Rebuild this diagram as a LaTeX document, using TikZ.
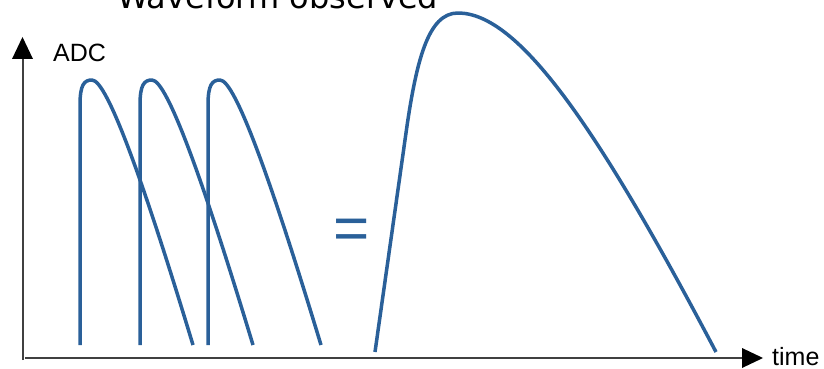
\documentclass[tikz,border=0pt]{standalone}
\usepackage{fontspec}
\setmainfont{Liberation Sans}
\newfontfamily\djv{DejaVu Sans}
\definecolor{wave}{HTML}{2A6099}
\begin{document}
\begin{tikzpicture}[x=1pt,y=-1pt,
  wavecurve/.style={draw=wave,line width=3.5pt,line join=round},
  axisline/.style={draw=black!75,line width=1.3pt},
  axishead/.style={fill=black,draw=none},
  lbl/.style={inner sep=0pt,anchor=base west,font=\fontsize{25}{30}\selectfont}]
\useasboundingbox (0,0) rectangle (824,369);
% title (cut at top)
\node[inner sep=0pt,anchor=base west,font=\djv\fontsize{32}{38}\selectfont] (title) at (117,8.3) {Waveform observed};
% axes
\coordinate (origin) at (23,359);
\coordinate (ytop) at (23,59);
\coordinate (xend) at (742,358);
\draw[axisline] (23,360) -- (ytop);
\draw[axisline] (25,358) -- (xend);
\fill[axishead] (12,59) -- (33,59) -- (22.5,37) -- cycle;
\fill[axishead] (742,348) -- (742,368) -- (763,358) -- cycle;
\node[lbl] (adc) at (53,61) {ADC};
\node[lbl] (time) at (772,365) {time};
% small pulses
\foreach \o in {80,140,208}{
  \draw[wavecurve] (\o,345) -- (\o,105) .. controls (\o,85) and (\o+4,80) .. (\o+12,80)
    .. controls (\o+27,80) and (\o+63,180) .. (\o+113,345);
}
% equals
\node[inner sep=0pt,anchor=base,text=wave,font=\fontsize{62}{70}\selectfont] (eq) at (352,249.5) {=};
% big pulse
\draw[wavecurve] (375,352) -- (405,140) .. controls (416,60) and (428,13) .. (458,13)
  .. controls (518,13) and (596,124) .. (716,352);
\end{tikzpicture}
\end{document}
